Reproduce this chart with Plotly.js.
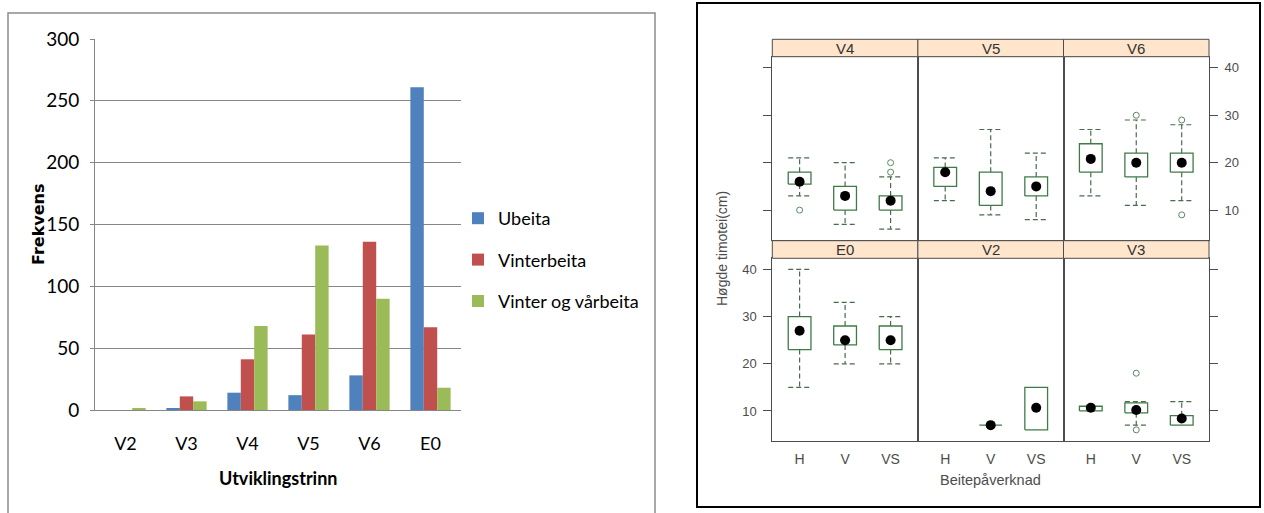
<!DOCTYPE html>
<html><head><meta charset="utf-8">
<script src="https://cdn.plot.ly/plotly-3.0.1.min.js"></script>
<style>html,body{margin:0;padding:0;background:#fff;} #chart{width:1264px;height:513px;}</style>
</head><body><div id="chart"></div>
<script>
// ---- Left chart: frequency of development stages ----
const stages = ['V2','V3','V4','V5','V6','E0'];
const ubeita = [0,1,14,12,28,261];
const vinterbeita = [0,11,41,61,136,67];
const vinterVaarbeita = [1,7,68,133,90,18];
const seriesNames = ['Ubeita','Vinterbeita','Vinter og vårbeita'];

// ---- Right chart: box plots of timothy height per stage and grazing ----
const treatments = ['H','V','VS'];
const panelNames = ['V4','V5','V6','E0','V2','V3'];
const lowerWhisker = [[13,7,6],[12,9,8],[13,11,12],[15,20,20],[null,7,6],[10,7,7]];
const q1 = [[15.5,10,10],[15,11,13],[18,17,18],[23,24,23],[null,7,6],[10,9.6,7]];
const median = [[16,13,12],[18,14,15],[20.8,20,20],[27,25,25],[null,7,10.7],[10.7,10.2,8.4]];
const q3 = [[18,15,13],[19,18,17],[24,22,22],[30,28,28],[null,7,15],[11,11.7,9]];
const upperWhisker = [[21,20,17],[21,27,22],[27,29,28],[40,33,30],[null,7,15],[11,12,12]];
const outliers = [[[10],[],[18,20]],[[],[],[]],[[],[30],[29,9]],[[],[],[]],[[],[],[]],[[],[18,6],[]]];
const heightTicks = [10,20,30,40];

const W = 1264, H = 513;
const px = p => p / W;
const py = p => 1 - p / H;

const narrow = 'Lato, Liberation Sans Narrow, sans-serif';
const arial = 'Liberation Sans, Arial, sans-serif';
const boxCol = '#3f7a47', whiskCol = '#4a6a4f', outCol = '#5a8a62', frameCol = '#4d4d4d';

const barColors = ['#4F81BD','#C0504D','#9BBB59'];
const barData = [ubeita, vinterbeita, vinterVaarbeita];
const traces = barData.map((vals, k) => ({
  type: 'bar', x: stages, y: vals, name: seriesNames[k], legendgroup: 'g' + k,
  marker: {color: barColors[k]}, xaxis: 'x', yaxis: 'y', hoverinfo: 'x+y+name'
}));

const layout = {
  width: W, height: H, margin: {l:0, r:0, t:0, b:0},
  paper_bgcolor: '#fff', plot_bgcolor: 'rgba(0,0,0,0)',
  bargap: 0.34, bargroupgap: 0, barmode: 'group',
  showlegend: true,
  legend: {x: px(458), y: py(200), xanchor: 'left', yanchor: 'top', tracegroupgap: 15,
           font: {family: narrow, size: 18, color: '#000'}, bgcolor: 'rgba(0,0,0,0)', itemwidth: 30},
  xaxis: {domain: [px(95), px(461)], type: 'category', anchor: 'y', showline: true, linecolor: '#868686',
          ticks: 'outside', ticklen: 17, tickcolor: 'rgba(0,0,0,0)', showgrid: false,
          tickfont: {family: narrow, size: 18, color: '#000'}, fixedrange: true},
  yaxis: {domain: [py(410), py(39)], range: [0, 300], dtick: 50, anchor: 'x', showline: true, linecolor: '#868686',
          showgrid: true, gridcolor: '#868686', zeroline: false, ticks: 'outside', ticklen: 4, tickcolor: '#868686',
          ticklabelstandoff: 7, tickfont: {family: narrow, size: 19, color: '#000'}, fixedrange: true},
  shapes: [], annotations: []
};

// frames
layout.shapes.push({type:'rect', xref:'paper', yref:'paper', x0: px(8), x1: px(655), y0: py(530), y1: py(13),
  line: {color: '#8c8c8c', width: 1.5}, fillcolor: 'rgba(0,0,0,0)'});
layout.shapes.push({type:'rect', xref:'paper', yref:'paper', x0: px(697), x1: px(1260), y0: py(507), y1: py(3),
  line: {color: '#000', width: 2}, fillcolor: 'rgba(0,0,0,0)'});

// left titles
layout.annotations.push({xref:'paper', yref:'paper', x: px(38), y: py(225), xanchor: 'center', yanchor: 'middle',
  text: 'Frekvens', textangle: -90, showarrow: false,
  font: {family: 'DejaVu Sans, Verdana, sans-serif', size: 16, color: '#000', weight: 'bold'}});
layout.annotations.push({xref:'paper', yref:'paper', x: px(278), y: py(478), xanchor: 'center', yanchor: 'middle',
  text: '<b>Utviklingstrinn</b>', showarrow: false, font: {family: narrow, size: 18, color: '#000'}});

// right panels
const colEdges = [772.3, 917.9, 1063.5, 1209];
const rowPanel = [[56.7, 240], [258.3, 440.7]];
const rowStrip = [[39.3, 56.7], [240.7, 258.3]];
const hw = 0.25;

panelNames.forEach((name, i) => {
  const row = i < 3 ? 0 : 1, col = i % 3, n = i + 2;
  const xa = 'x' + n, ya = 'y' + n;
  layout['xaxis' + n] = {
    domain: [px(colEdges[col]), px(colEdges[col+1])], range: [0.4, 3.6], anchor: ya,
    tickvals: [1,2,3], ticktext: treatments, showticklabels: row === 1,
    ticks: 'outside', ticklen: 5, tickcolor: 'rgba(0,0,0,0)',
    showline: true, mirror: true, linecolor: frameCol, linewidth: 1, showgrid: false, zeroline: false,
    tickfont: {family: arial, size: 14, color: '#4d4d4d'}, fixedrange: true
  };
  const showTicks = col !== 1;
  layout['yaxis' + n] = {
    domain: [py(rowPanel[row][1]), py(rowPanel[row][0])], range: [3.7, 42.35], anchor: xa,
    tickvals: heightTicks, side: col === 2 ? 'right' : 'left',
    showticklabels: (row === 0 && col === 2) || (row === 1 && col === 0),
    ticks: showTicks ? 'outside' : '', ticklen: 8, tickcolor: frameCol, ticklabelstandoff: 4,
    showline: true, mirror: true, linecolor: frameCol, linewidth: 1, showgrid: false, zeroline: false,
    tickfont: {family: arial, size: 13, color: '#4d4d4d'}, fixedrange: true
  };
  // strip
  layout.shapes.push({type:'rect', xref:'paper', yref:'paper',
    x0: px(colEdges[col]), x1: px(colEdges[col+1]), y0: py(rowStrip[row][1]), y1: py(rowStrip[row][0]),
    fillcolor: '#ffe5cc', line: {color: frameCol, width: 1}});
  layout.annotations.push({xref:'paper', yref:'paper', xanchor: 'center', yanchor: 'middle',
    x: px((colEdges[col] + colEdges[col+1]) / 2), y: py((rowStrip[row][0] + rowStrip[row][1]) / 2),
    text: name, showarrow: false, font: {family: arial, size: 15, color: '#333'}});

  const bx = [], by = [], wx = [], wy = [], mx = [], my = [], ox = [], oy = [];
  treatments.forEach((t, j) => {
    const c = j + 1;
    outliers[i][j].forEach(v => { ox.push(c); oy.push(v); });
    if (q1[i][j] === null) return;
    bx.push(c-hw, c+hw, c+hw, c-hw, c-hw, null);
    by.push(q1[i][j], q1[i][j], q3[i][j], q3[i][j], q1[i][j], null);
    if (upperWhisker[i][j] > q3[i][j]) {
      wx.push(c, c, null, c-hw, c+hw, null);
      wy.push(q3[i][j], upperWhisker[i][j], null, upperWhisker[i][j], upperWhisker[i][j], null);
    }
    if (lowerWhisker[i][j] < q1[i][j]) {
      wx.push(c, c, null, c-hw, c+hw, null);
      wy.push(q1[i][j], lowerWhisker[i][j], null, lowerWhisker[i][j], lowerWhisker[i][j], null);
    }
    mx.push(c); my.push(median[i][j]);
  });
  traces.push({type:'scatter', mode:'lines', x: wx, y: wy, xaxis: xa, yaxis: ya, showlegend: false,
    line: {color: whiskCol, width: 1.2, dash: '5px,3px'}, hoverinfo: 'skip'});
  traces.push({type:'scatter', mode:'lines', x: bx, y: by, xaxis: xa, yaxis: ya, showlegend: false,
    line: {color: boxCol, width: 1.3}, hoverinfo: 'skip'});
  traces.push({type:'scatter', mode:'markers', x: ox, y: oy, xaxis: xa, yaxis: ya, showlegend: false,
    marker: {symbol: 'circle-open', size: 6, color: outCol, line: {width: 1}}, hoverinfo: 'y'});
  traces.push({type:'scatter', mode:'markers', x: mx, y: my, xaxis: xa, yaxis: ya, showlegend: false,
    marker: {symbol: 'circle', size: 10, color: '#000'}, hoverinfo: 'y'});
});

layout.annotations.push({xref:'paper', yref:'paper', x: px(722), y: py(249), xanchor: 'center', yanchor: 'middle',
  text: 'Høgde timotei(cm)', textangle: -90, showarrow: false, font: {family: arial, size: 14, color: '#4d4d4d'}});
layout.annotations.push({xref:'paper', yref:'paper', x: px(990), y: py(480), xanchor: 'center', yanchor: 'middle',
  text: 'Beitepåverknad', showarrow: false, font: {family: arial, size: 14.5, color: '#4d4d4d'}});

Plotly.newPlot('chart', traces, layout, {displayModeBar: false, responsive: false});
</script>
</body></html>
